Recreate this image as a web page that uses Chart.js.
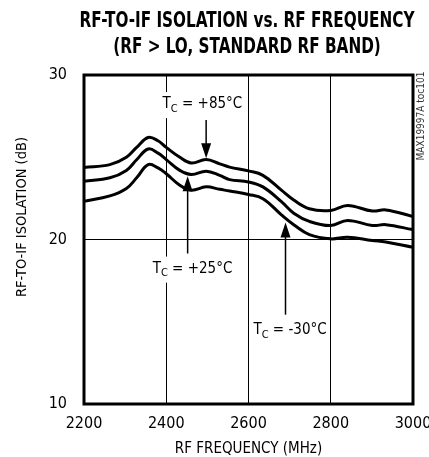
<!DOCTYPE html>
<html>
<head>
<meta charset="utf-8">
<script src="https://cdn.jsdelivr.net/npm/chart.js@4/dist/chart.umd.min.js"></script>
<style>
  html, body { margin: 0; padding: 0; background: #fff; }
  #wrap { width: 429px; height: 457px; }
</style>
</head>
<body>
<div id="wrap"><canvas id="isoChart" width="429" height="457"></canvas></div>
<script>
// RF frequency points (MHz)
const freqs = [2200, 2263, 2303, 2328, 2356, 2380, 2400, 2433, 2461, 2497, 2530, 2554, 2600, 2635, 2680, 2710, 2748, 2800, 2841, 2901, 2934, 3000];

// isolation (dB) per case temperature
const iso85 = [24.37, 24.55, 25.0, 25.6, 26.2, 26.0, 25.6, 25.0, 24.65, 24.86, 24.6, 24.4, 24.17, 23.9, 23.0, 22.4, 21.87, 21.77, 22.07, 21.73, 21.8, 21.4];
const iso25 = [23.54, 23.75, 24.2, 24.85, 25.5, 25.25, 24.86, 24.2, 23.95, 24.15, 23.9, 23.64, 23.5, 23.2, 22.3, 21.6, 21.1, 20.85, 21.16, 20.85, 20.9, 20.6];
const isoM30 = [22.32, 22.65, 23.1, 23.75, 24.55, 24.35, 24.0, 23.3, 23.0, 23.2, 23.05, 22.95, 22.74, 22.48, 21.5, 20.9, 20.3, 20.04, 20.14, 19.94, 19.85, 19.53];

const xTicks = [2200, 2400, 2600, 2800, 3000];
const yTicks = [10, 20, 30];

// labels + arrows: [temp text, label x (MHz), label y (dB), arrow x, tail y, tip y]
const notes = [
    ['+85°C', 2391, 28.23, 2497, 27.26, 24.94],
    ['+25°C', 2367, 18.23, 2452, 19.15, 23.84],
    ['-30°C', 2612, 14.51, 2690, 15.43, 21.04]
];

const FONT = "'Liberation Sans Narrow', 'DejaVu Sans Condensed', sans-serif";

const toPts = (vals) => freqs.map((f, i) => ({ x: f, y: vals[i] }));

const curve = (label, vals) => ({
    label,
    data: toPts(vals),
    borderColor: '#000',
    borderWidth: 3,
    pointRadius: 0,
    tension: 0.4,
    fill: false
});

// frame, title, axis title, annotations
const decor = {
    id: 'decor',
    afterDatasetsDraw(chart) {
        const { ctx, chartArea: a, scales: { x, y } } = chart;
        ctx.save();
        ctx.strokeStyle = '#000';
        ctx.lineWidth = 3;
        ctx.strokeRect(a.left, a.top, a.right - a.left, a.bottom - a.top);

        // annotations
        notes.forEach(([t, lx, ly, ax, ty, tip]) => {
            const px = x.getPixelForValue(ax);
            const pTail = y.getPixelForValue(ty);
            const pTip = y.getPixelForValue(tip);
            const dir = pTip > pTail ? 1 : -1;
            ctx.lineWidth = 1.5;
            ctx.beginPath();
            ctx.moveTo(px, pTail);
            ctx.lineTo(px, pTip - dir * 12);
            ctx.stroke();
            ctx.fillStyle = '#000';
            ctx.beginPath();
            ctx.moveTo(px, pTip);
            ctx.lineTo(px - 5, pTip - dir * 15);
            ctx.lineTo(px + 5, pTip - dir * 15);
            ctx.closePath();
            ctx.fill();

            const sx = x.getPixelForValue(lx);
            const sy = y.getPixelForValue(ly);
            ctx.font = '15px ' + FONT;
            const wT = ctx.measureText('T').width;
            ctx.font = '11px ' + FONT;
            const wC = ctx.measureText('C').width;
            ctx.font = '15px ' + FONT;
            const rest = ' = ' + t;
            const wR = ctx.measureText(rest).width;
            ctx.fillStyle = '#fff';
            ctx.fillRect(sx - 3, sy - 12, wT + wC + wR + 6, 26);
            ctx.fillStyle = '#000';
            ctx.textBaseline = 'middle';
            ctx.textAlign = 'left';
            ctx.fillText('T', sx, sy);
            ctx.font = '11px ' + FONT;
            ctx.fillText('C', sx + wT, sy + 5);
            ctx.font = '15px ' + FONT;
            ctx.fillText(rest, sx + wT + wC, sy);
        });

        // chart title
        ctx.fillStyle = '#000';
        ctx.textAlign = 'center';
        ctx.textBaseline = 'middle';
        ctx.font = 'bold 21px ' + FONT;
        const l1 = 'RF-TO-IF ISOLATION vs. RF FREQUENCY';
        const l2 = '(RF > LO, STANDARD RF BAND)';
        const k = 335 / ctx.measureText(l1).width;
        ctx.save();
        ctx.translate(247, 0);
        ctx.scale(k, 1);
        ctx.fillText(l1, 0, 22);
        ctx.fillText(l2, 0, 48);
        ctx.restore();

        // y axis title
        ctx.save();
        ctx.translate(22, 217);
        ctx.rotate(-Math.PI / 2);
        ctx.font = '14.5px ' + FONT;
        ctx.fillText('RF-TO-IF ISOLATION (dB)', 0, 0);
        ctx.restore();

        // part number tag
        ctx.save();
        ctx.translate(421, 116);
        ctx.rotate(-Math.PI / 2);
        ctx.fillStyle = '#333';
        ctx.font = '10px ' + FONT;
        ctx.fillText('MAX19997A toc101', 0, 0);
        ctx.restore();

        ctx.restore();
    }
};

new Chart(document.getElementById('isoChart'), {
    type: 'line',
    data: {
        datasets: [
            curve('+85°C', iso85),
            curve('+25°C', iso25),
            curve('-30°C', isoM30)
        ]
    },
    options: {
        responsive: false,
        animation: false,
        layout: { padding: { top: 75, right: 16, left: 0, bottom: 0 } },
        plugins: {
            legend: { display: false },
            tooltip: { enabled: false },
            title: { display: false }
        },
        scales: {
            x: {
                type: 'linear',
                min: 2200,
                max: 3000,
                afterBuildTicks: (s) => { s.ticks = xTicks.map(v => ({ value: v })); },
                afterFit: (s) => { s.height = 53; s.paddingLeft = 0; s.paddingRight = 0; },
                ticks: {
                    color: '#000',
                    font: { family: FONT, size: 16 },
                    padding: 10,
                    maxRotation: 0,
                    callback: (v) => String(v)
                },
                grid: { color: '#000', lineWidth: 1, drawTicks: false },
                border: { display: false },
                title: {
                    display: true,
                    text: 'RF FREQUENCY (MHz)',
                    color: '#000',
                    font: { family: FONT, size: 15, lineHeight: 1 },
                    padding: { top: 0, bottom: 0 }
                }
            },
            y: {
                min: 10,
                max: 30,
                afterBuildTicks: (s) => { s.ticks = yTicks.map(v => ({ value: v })); },
                afterFit: (s) => { s.width = 84; s.paddingTop = 0; s.paddingBottom = 0; },
                ticks: { color: '#000', font: { family: FONT, size: 16 }, padding: 17 },
                grid: { color: '#000', lineWidth: 1, drawTicks: false },
                border: { display: false }
            }
        }
    },
    plugins: [decor]
});
</script>
</body>
</html>
